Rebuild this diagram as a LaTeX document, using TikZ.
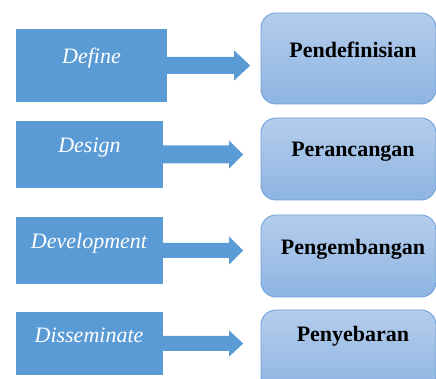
\documentclass[tikz,border=0pt]{standalone}
\usepackage{fontspec}
\setmainfont{Liberation Serif}
\definecolor{leftblue}{HTML}{5B9BD5}
\definecolor{rtop}{HTML}{B4CDEB}
\definecolor{rbot}{HTML}{8EB4E3}
\definecolor{rline}{HTML}{6FA0D8}
\begin{document}
\begin{tikzpicture}[x=1pt,y=1pt,
  leftbox/.style={fill=leftblue,draw=none,inner sep=0pt},
  rightbox/.style={draw=rline,line width=0.9pt,rounded corners=15pt,top color=rtop,bottom color=rbot,inner sep=0pt,minimum width=175pt},
  lefttext/.style={text=white,font=\fontsize{22}{26}\selectfont\itshape,anchor=base},
  righttext/.style={text=black,font=\fontsize{22}{26}\selectfont\bfseries,anchor=base},
  blockarrow/.style={fill=leftblue,draw=none}]
\useasboundingbox (0,0) rectangle (436,379);
\clip (0,0) rectangle (436,379);
% left boxes
\node[leftbox,minimum width=151pt,minimum height=73pt] (L1) at (91.5,313.5) {};
\node[leftbox,minimum width=147pt,minimum height=67pt] (L2) at (89.5,224.5) {};
\node[leftbox,minimum width=147pt,minimum height=67pt] (L3) at (89.5,128.5) {};
\node[leftbox,minimum width=147pt,minimum height=63pt] (L4) at (89.5,35.5) {};
% right boxes
\node[rightbox,minimum height=91pt] (R1) at (348.5,320.5) {};
\node[rightbox,minimum height=82pt] (R2) at (348.5,220) {};
\node[rightbox,minimum height=82pt] (R3) at (348.5,123) {};
\node[rightbox,minimum height=82pt] (R4) at (348.5,28) {};
% labels
\node[lefttext] (t1) at (91.5,315) {Define};
\node[lefttext] (t2) at (89.5,226) {Design};
\node[lefttext] (t3) at (89,130) {Development};
\node[lefttext] (t4) at (89,36) {Disseminate};
\node[righttext] (u1) at (353,321) {Pendefinisian};
\node[righttext] (u2) at (353,222) {Perancangan};
\node[righttext] (u3) at (353,124) {Pengembangan};
\node[righttext] (u4) at (353,37) {Penyebaran};
% block arrows
\fill[blockarrow] (L1.east) ++(0,8.5) -- ++(67,0) -- ++(0,6.5) -- ++(16,-15) -- ++(-16,-15) -- ++(0,6.5) -- ++(-67,0) -- cycle;
\fill[blockarrow] (L2.east) ++(0,9) -- ++(66,0) -- ++(0,5) -- ++(14,-14) -- ++(-14,-14) -- ++(0,5) -- ++(-66,0) -- cycle;
\fill[blockarrow] (L3.east) ++(0,7.5) -- ++(66,0) -- ++(0,6.5) -- ++(14,-14) -- ++(-14,-14) -- ++(0,6.5) -- ++(-66,0) -- cycle;
\fill[blockarrow] (L4.east) ++(0,7.5) -- ++(66,0) -- ++(0,5.5) -- ++(14,-13) -- ++(-14,-13) -- ++(0,5.5) -- ++(-66,0) -- cycle;
\end{tikzpicture}
\end{document}
